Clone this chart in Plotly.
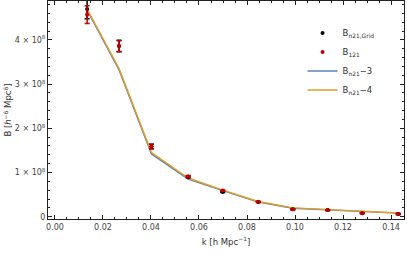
import plotly.graph_objects as go

k = [0.0134, 0.0267, 0.0402, 0.0555, 0.0699, 0.0847, 0.0991, 0.1136, 0.1280, 0.1430]
B_grid = [4.70e8, 3.86e8, 1.59e8, 0.90e8, 0.56e8, 0.33e8, 0.17e8, 0.15e8, 0.08e8, 0.06e8]
B_grid_err = [0.22e8, 0.13e8, 0.05e8, 0.02e8, 0.015e8, 0.01e8, 0.01e8, 0.01e8, 0.01e8, 0.01e8]
B_121 = [4.57e8, 3.86e8, 1.59e8, 0.91e8, 0.59e8, 0.34e8, 0.17e8, 0.15e8, 0.08e8, 0.06e8]
B_121_err = [0.20e8, 0.12e8, 0.05e8, 0.02e8, 0.015e8, 0.01e8, 0.01e8, 0.01e8, 0.01e8, 0.01e8]
B_n21_3 = [4.67e8, 3.32e8, 1.42e8, 0.85e8, 0.59e8, 0.33e8, 0.19e8, 0.15e8, 0.11e8, 0.08e8]
B_n21_4 = [4.70e8, 3.35e8, 1.45e8, 0.875e8, 0.60e8, 0.345e8, 0.20e8, 0.16e8, 0.115e8, 0.085e8]

x_ticks = [0.00, 0.02, 0.04, 0.06, 0.08, 0.10, 0.12, 0.14]
x_ticktext = ["0.00", "0.02", "0.04", "0.06", "0.08", "0.10", "0.12", "0.14"]
y_ticks = [0, 1e8, 2e8, 3e8, 4e8]
y_ticktext = ["0", "1 × 10<sup>8</sup>", "2 × 10<sup>8</sup>", "3 × 10<sup>8</sup>", "4 × 10<sup>8</sup>"]

BLUE = "#5E81B5"
ORANGE = "#E19C24"
RED = "#C00000"

fig = go.Figure()
fig.add_trace(go.Scatter(x=k, y=B_n21_3, mode="lines", line=dict(color=BLUE, width=1.4),
                         name="B<sub>n21</sub>−3", legendrank=3))
fig.add_trace(go.Scatter(x=k, y=B_n21_4, mode="lines", line=dict(color=ORANGE, width=1.4),
                         name="B<sub>n21</sub>−4", legendrank=4))
fig.add_trace(go.Scatter(x=k, y=B_grid, mode="markers", marker=dict(color="black", size=4),
                         error_y=dict(type="data", array=B_grid_err, color="black", thickness=1.5, width=2.5),
                         name="B<sub>n21,Grid</sub>", legendrank=1))
fig.add_trace(go.Scatter(x=k, y=B_121, mode="markers", marker=dict(color=RED, size=4),
                         error_y=dict(type="data", array=B_121_err, color=RED, thickness=1.5, width=2.5),
                         name="B<sub>121</sub>", legendrank=2))

fig.update_layout(
    width=407, height=255,
    margin=dict(l=48, r=3, t=1, b=36),
    plot_bgcolor="white", paper_bgcolor="white",
    font=dict(family="DejaVu Sans", size=8, color="#444"),
    showlegend=True,
    legend=dict(x=0.715, y=0.92, xanchor="left", yanchor="top", bgcolor="rgba(0,0,0,0)",
                font=dict(size=8.5, color="#333"), traceorder="normal", itemwidth=30,
                tracegroupgap=2),
)

axis_common = dict(showline=True, linecolor="#222", linewidth=1, mirror="allticks",
                   ticks="inside", ticklen=4, tickcolor="#222", tickwidth=1,
                   showgrid=False, zeroline=False, automargin=False)
fig.update_xaxes(range=[-0.0029, 0.1454], tickvals=x_ticks, ticktext=x_ticktext,
                 minor=dict(ticks="inside", ticklen=2, dtick=0.005, tick0=0, tickcolor="#222"),
                 title=dict(text="k [h Mpc<sup>−1</sup>]", font=dict(size=8.5, color="#333"), standoff=8),
                 **axis_common)
fig.update_yaxes(range=[-0.052e8, 4.88e8], tickvals=y_ticks, ticktext=y_ticktext,
                 minor=dict(ticks="inside", ticklen=2, dtick=0.2e8, tick0=0, tickcolor="#222"),
                 title=dict(text="B [<i>h</i><sup>−6</sup> Mpc<sup>6</sup>]", font=dict(size=8.5, color="#333"), standoff=1),
                 **axis_common)

fig.write_html("out.html", config={"displayModeBar": False},
               post_script="document.body.style.margin='0';document.body.style.overflow='hidden';")
